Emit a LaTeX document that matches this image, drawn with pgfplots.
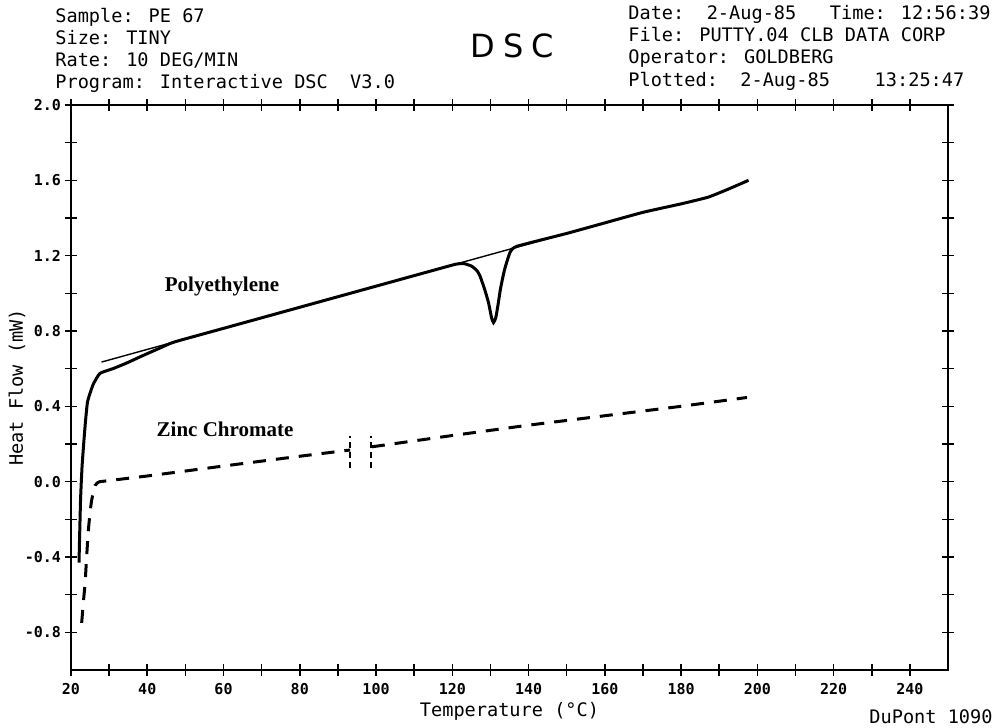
\documentclass[border=0pt]{standalone}
\usepackage{fontspec}
\setmainfont{DejaVu Sans Mono}
\newfontfamily\labserif{Liberation Serif}
\newfontfamily\dscfont{DejaVu Sans}[LetterSpace=25.0]
\usepackage{pgfplots}
\pgfplotsset{compat=1.18}

\begin{document}
\begin{tikzpicture}
\begin{axis}[
    scale only axis,
    width=438.5pt,
    height=282.5pt,
    xmin=20, xmax=250,
    ymin=-1.0, ymax=2.0,
    xtick={20,40,...,240},
    minor xtick={30,50,...,230},
    ytick={-0.8,-0.4,0,0.4,0.8,1.2,1.6,2.0},
    minor ytick={-0.6,-0.2,0.2,0.6,1.0,1.4,1.8},
    tick align=center,
    major tick length=6pt,
    minor tick length=6pt,
    axis line style={line width=1pt},
    every tick/.style={black, line width=0.8pt},
    /pgf/number format/assume math mode=true,
    ticklabel style={font=\bfseries\fontsize{7.5}{8}\selectfont},
    yticklabel style={xshift=1.5pt, /pgf/number format/.cd, fixed, fixed zerofill, precision=1},
    scaled y ticks=false,
    xlabel={Temperature (°C)},
    ylabel={Heat Flow (mW)},
    label style={font=\fontsize{9.3}{11}\selectfont},
    xlabel style={at={(axis description cs:0.5,0)}, anchor=base, yshift=-23.5pt},
    ylabel style={at={(axis description cs:0,0.5)}, anchor=center, yshift=27pt},
]

% Polyethylene trace
\addplot[black, line width=1.5pt, smooth, tension=0.3] coordinates {
    (22.1,-0.43) (22.5,-0.10) (22.9,0.08) (23.4,0.22) (23.8,0.32)
    (24.3,0.42) (25.0,0.47) (25.9,0.52) (27.6,0.575) (31,0.60)
    (34.6,0.63) (38.9,0.67) (43.4,0.71) (47,0.741) (60,0.814)
    (80,0.926) (100,1.038) (115,1.122) (121,1.155) (123,1.158)
    (125,1.145) (126.5,1.12) (127.3,1.09) (128.5,1.02) (129.5,0.95)
    (130.3,0.87) (130.8,0.845) (131.4,0.87) (132,0.94) (132.6,1.02)
    (133.3,1.09) (133.9,1.14) (135.2,1.22) (137,1.25) (150,1.318)
    (160,1.374) (170,1.43) (180,1.475) (187,1.51) (192,1.55) (197.7,1.60)
};

% baseline
\addplot[black, line width=0.7pt] coordinates {(28,0.635) (170,1.43)};

% Zinc chromate trace
\addplot[black, line width=1.5pt, dash pattern=on 6.5pt off 5pt] coordinates {
    (22.8,-0.75) (23.2,-0.65) (23.7,-0.54) (24.1,-0.40) (24.5,-0.27)
    (25.0,-0.16) (25.4,-0.10) (25.9,-0.05) (26.3,-0.02) (27.0,-0.005)
    (27.6,0.0) (29.7,0.005) (40,0.03) (60,0.083) (80,0.135) (93.2,0.168)
};
\addplot[black, line width=1.5pt, dash pattern=on 6.5pt off 5pt] coordinates {
    (98.9,0.185) (120,0.245) (140,0.30) (158.8,0.347) (180,0.40) (197.3,0.447)
};

% break marks
\addplot[black, line width=1pt, dash pattern=on 3pt off 2pt] coordinates {(93.2,0.07) (93.2,0.24)};
\addplot[black, line width=1pt, dash pattern=on 3pt off 2pt] coordinates {(98.6,0.07) (98.6,0.245)};

\node[font=\labserif\bfseries\fontsize{10.5}{12}\selectfont] at (axis cs:59.6,1.036) {Polyethylene};
\node[font=\labserif\bfseries\fontsize{10.5}{12}\selectfont] at (axis cs:60.4,0.277) {Zinc Chromate};
\end{axis}

\begin{scope}[every node/.style={anchor=base west, inner sep=0pt, font=\fontsize{9.3}{11}\selectfont}]
\node at (-8pt,323.5pt) {Sample: PE 67};
\node at (-8pt,312.5pt) {Size: TINY};
\node at (-8pt,301.5pt) {Rate: 10 DEG/MIN};
\node at (-8pt,290.5pt) {Program: Interactive DSC\ \ V3.0};
\node at (278.5pt,325pt) {Date:\ \ 2-Aug-85\ \ \ Time: 12:56:39};
\node at (278.5pt,314pt) {File: PUTTY.04 CLB DATA CORP};
\node at (278.5pt,303pt) {Operator: GOLDBERG};
\node at (278.5pt,291.5pt) {Plotted:\ \ 2-Aug-85\ \ \ \ 13:25:47};
\node[font=\dscfont\fontsize{16}{18}\selectfont] at (199.5pt,306pt) {DSC};
\node[anchor=base east] at (461pt,-27pt) {DuPont 1090};
\end{scope}

\path (-35.5pt,-29pt) rectangle (463.5pt,335pt);
\end{tikzpicture}
\end{document}
